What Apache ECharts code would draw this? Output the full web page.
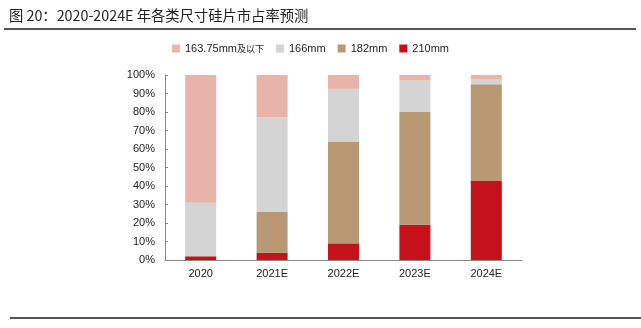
<!DOCTYPE html>
<html>
<head>
<meta charset="utf-8">
<style>
  html, body { margin: 0; padding: 0; background: #fff; }
  #chart { width: 641px; height: 328px; }
</style>
<script src="https://cdn.jsdelivr.net/npm/echarts@6/dist/echarts.min.js"></script>
</head>
<body>
<div id="chart"></div>
<script>
// Categories and market-share values (%), stacked bottom to top
const years = ['2020', '2021E', '2022E', '2023E', '2024E'];
const share210 = [2, 4, 9, 19, 43];
const share182 = [0, 22, 55, 61, 52];
const share166 = [29, 51, 28.5, 17, 2.5];
const share163 = [69, 23, 7.5, 3, 2.5];
const yTicks = [0, 10, 20, 30, 40, 50, 60, 70, 80, 90, 100];

const seriesDefs = [
  { name: '210mm', data: share210, color: '#C4111C' },
  { name: '182mm', data: share182, color: '#B99874' },
  { name: '166mm', data: share166, color: '#D4D4D4' },
  { name: '163.75mm及以下', data: share163, color: '#E8B3A8' }
];

const chart = echarts.init(document.getElementById('chart'), null, { renderer: 'canvas' });
const font = 'Liberation Sans, Arial, sans-serif';
const cjk = '"Noto Sans CJK SC", sans-serif';

chart.setOption({
  animation: false,
  title: {
    text: '图 20：2020-2024E 年各类尺寸硅片市占率预测',
    left: 4, top: 3,
    textStyle: { fontFamily: cjk, fontSize: 14.3, fontWeight: 'normal', color: '#222' }
  },
  graphic: [
    { type: 'rect', shape: { x: 4, y: 28, width: 632, height: 2 }, style: { fill: '#555' } },
    { type: 'rect', shape: { x: 10, y: 317, width: 631, height: 2 }, style: { fill: '#555' } }
  ],
  legend: {
    data: ['163.75mm及以下', '166mm', '182mm', '210mm'],
    top: 43, left: 172, padding: 0,
    itemWidth: 8, itemHeight: 8, itemGap: 12,
    icon: 'rect',
    textStyle: {
      fontFamily: font, fontSize: 11, color: '#222',
      rich: { c: { fontFamily: cjk, fontSize: 9, color: '#222' } }
    },
    formatter: function (n) {
      return n.replace('及以下', '{c|及以下}');
    }
  },
  grid: { left: 165, right: 119, top: 75, bottom: 68 },
  xAxis: {
    type: 'category',
    data: years,
    axisLine: { lineStyle: { color: '#888' } },
    axisTick: { inside: true, length: 3, lineStyle: { color: '#888' } },
    axisLabel: { fontFamily: font, fontSize: 11, color: '#222', margin: 8 }
  },
  yAxis: {
    type: 'value',
    min: yTicks[0], max: yTicks[yTicks.length - 1], interval: 10,
    axisLine: { show: true, lineStyle: { color: '#888' } },
    axisTick: { show: true, inside: true, length: 3, lineStyle: { color: '#888' } },
    splitLine: { show: false },
    axisLabel: { fontFamily: font, fontSize: 11, color: '#222', margin: 10, formatter: '{value}%' }
  },
  series: seriesDefs.map(s => ({
    name: s.name,
    type: 'bar',
    stack: 'share',
    data: s.data,
    barWidth: 31,
    itemStyle: { color: s.color }
  }))
});
</script>
</body>
</html>
